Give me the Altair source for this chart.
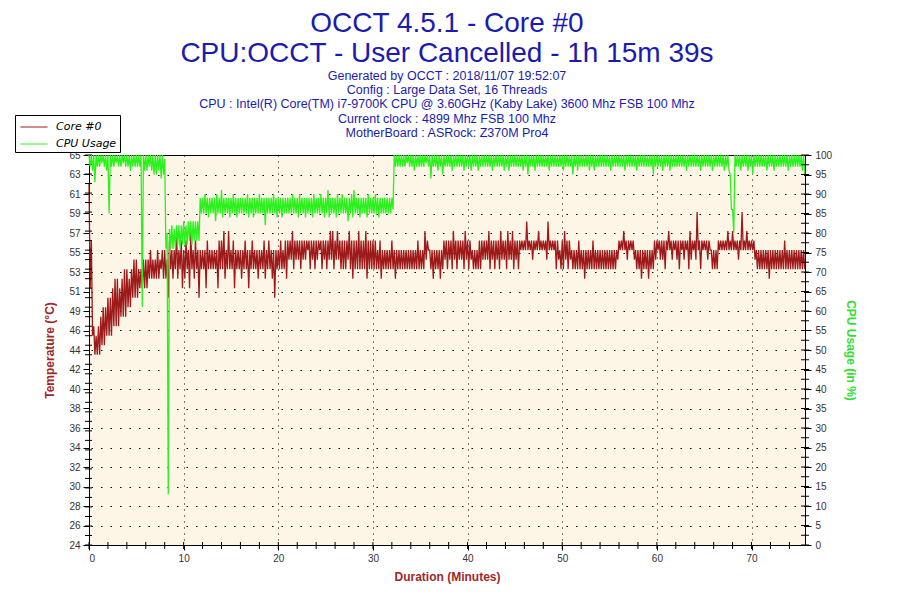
import altair as alt
import pandas as pd

# ---------------- data ----------------
step = 0.25  # minutes per reading bin (each bin: a high and a low reading)

temp_hi = [
    62, 56, 47, 46,  47, 48, 49, 49,  50, 50, 51, 52,  52, 51, 52, 53,
    53, 52, 53, 54,  54, 53, 53, 54,  54, 54, 55, 54,  54, 55, 54, 55,
    55, 54, 56, 55,  55, 57, 55, 56,  55, 56, 55, 57,  55, 56, 55, 55,
    55, 55, 56, 55,  55, 55, 55, 56,  56, 57, 55, 57,  55, 56, 55, 55,
    55, 55, 56, 55,  55, 56, 55, 55,  55, 55, 56, 55,  56, 55, 55, 55,
    55, 56, 55, 56,  56, 56, 57, 56,  56, 56, 56, 56,  56, 56, 56, 56,
    56, 56, 56, 56,  56, 56, 57, 57,  56, 57, 56, 56,  56, 56, 57, 56,
    56, 56, 57, 56,  56, 57, 56, 56,  56, 56, 55, 56,  55, 55, 55, 55,
    56, 55, 55, 55,  55, 55, 55, 55,  55, 55, 55, 56,  55, 55, 57, 56,
    55, 55, 55, 55,  55, 55, 56, 56,  56, 56, 57, 56,  56, 56, 56, 57,
    56, 56, 55, 55,  55, 56, 56, 56,  56, 57, 56, 56,  56, 56, 57, 56,
    56, 57, 56, 57,  56, 56, 56, 56,  56, 58, 56, 56,  56, 56, 57, 56,
    56, 56, 58, 56,  56, 56, 56, 55,  56, 57, 56, 56,  55, 55, 55, 56,
    55, 55, 55, 55,  55, 56, 55, 55,  55, 55, 55, 55,  55, 55, 55, 55,
    56, 56, 57, 56,  56, 56, 56, 55,  55, 55, 55, 55,  55, 55, 55, 56,
    56, 56, 56, 56,  56, 57, 56, 56,  56, 56, 56, 56,  56, 56, 57, 56,
    56, 59, 56, 56,  56, 56, 56, 55,  55, 55, 56, 56,  56, 56, 57, 56,
    57, 56, 56, 56,  59, 56, 57, 56,  56, 56, 55, 55,  55, 55, 55, 55,
    55, 55, 55, 55,  55, 55, 56, 55,  55, 55, 55, 55,  55, 55, 55,
]
temp_lo = [
    51, 46, 44, 44,  44, 45, 45, 46,  46, 46, 47, 47,  47, 48, 48, 48,
    49, 49, 50, 50,  50, 51, 51, 51,  51, 52, 52, 52,  52, 52, 53, 52,
    52, 50, 53, 52,  53, 52, 53, 51,  52, 53, 51, 53,  52, 53, 50, 53,
    53, 51, 53, 53,  53, 53, 51, 53,  53, 52, 53, 53,  53, 51, 53, 53,
    52, 53, 53, 51,  53, 53, 53, 52,  53, 53, 52, 53,  53, 52, 50, 53,
    53, 53, 53, 52,  54, 54, 53, 54,  54, 53, 54, 54,  55, 53, 54, 53,
    54, 55, 53, 54,  53, 54, 54, 53,  54, 54, 53, 53,  53, 54, 53, 52,
    53, 53, 53, 53,  53, 52, 53, 53,  53, 53, 53, 52,  53, 53, 53, 53,
    53, 52, 53, 53,  53, 53, 53, 53,  53, 53, 53, 53,  53, 53, 54, 55,
    53, 52, 53, 53,  52, 53, 54, 53,  54, 53, 54, 53,  54, 54, 53, 54,
    53, 54, 53, 53,  53, 53, 54, 54,  54, 53, 54, 53,  54, 53, 54, 54,
    53, 54, 54, 53,  54, 53, 55, 55,  55, 55, 55, 54,  55, 55, 55, 55,
    55, 54, 55, 55,  55, 53, 54, 53,  53, 54, 53, 54,  53, 53, 53, 53,
    53, 52, 53, 53,  53, 53, 53, 53,  53, 53, 53, 53,  53, 53, 53, 54,
    55, 55, 55, 54,  55, 55, 54, 53,  53, 52, 53, 53,  52, 53, 53, 54,
    55, 54, 54, 53,  55, 55, 54, 55,  54, 53, 55, 54,  55, 53, 54, 55,
    54, 55, 53, 55,  55, 54, 55, 53,  53, 53, 55, 55,  55, 55, 55, 55,
    55, 55, 54, 55,  55, 55, 55, 55,  55, 54, 53, 53,  53, 53, 53, 52,
    53, 53, 53, 53,  53, 53, 53, 53,  53, 53, 53, 53,  53, 53, 53,
]
cpu_hi = [
    100, 100, 100, 100,  100, 100, 100, 100,  100, 100, 100, 100,  100, 100, 100, 100,
    100, 100, 100, 100,  100, 100, 100, 100,  100, 100, 100, 100,  100, 100, 100, 100,
    99, 80, 81, 82,  81, 82, 82, 82,  83, 82, 83, 83,  83, 83, 83, 89,
    89, 90, 89, 89,  89, 89, 90, 89,  91, 89, 89, 89,  89, 90, 89, 89,
    89, 89, 89, 90,  89, 89, 89, 89,  90, 89, 89, 89,  89, 89, 90, 89,
    89, 89, 89, 89,  89, 89, 90, 89,  89, 90, 89, 89,  89, 89, 89, 90,
    89, 89, 90, 89,  89, 91, 89, 89,  89, 90, 89, 90,  89, 89, 89, 90,
    91, 89, 89, 89,  89, 89, 90, 89,  89, 90, 89, 89,  89, 89, 89, 89,
    89, 100, 100, 100,  100, 100, 100, 100,  100, 100, 100, 100,  100, 100, 100, 100,
    100, 100, 100, 100,  100, 100, 100, 100,  100, 100, 100, 100,  100, 100, 100, 100,
    100, 100, 100, 100,  100, 100, 100, 100,  100, 100, 100, 100,  100, 100, 100, 100,
    100, 100, 100, 100,  100, 100, 100, 100,  100, 100, 100, 100,  100, 100, 100, 100,
    100, 100, 100, 100,  100, 100, 100, 100,  100, 100, 100, 100,  100, 100, 100, 100,
    100, 100, 100, 100,  100, 100, 100, 100,  100, 100, 100, 100,  100, 100, 100, 100,
    100, 100, 100, 100,  100, 100, 100, 100,  100, 100, 100, 100,  100, 100, 100, 100,
    100, 100, 100, 100,  100, 100, 100, 100,  100, 100, 100, 100,  100, 100, 100, 100,
    100, 100, 100, 100,  100, 100, 100, 100,  100, 100, 100, 100,  100, 100, 100, 95,
    86, 100, 100, 100,  100, 100, 100, 100,  100, 100, 100, 100,  100, 100, 100, 100,
    100, 100, 100, 100,  100, 100, 100, 100,  100, 100, 100, 100,  100, 100, 100,
]
cpu_lo = [
    97, 96, 93, 97,  97, 98, 97, 96,  85, 97, 97, 98,  97, 97, 98, 97,
    97, 96, 97, 97,  97, 97, 61, 96,  96, 97, 96, 95,  95, 96, 94, 95,
    76, 13, 76, 76,  76, 77, 76, 77,  77, 77, 78, 77,  78, 78, 78, 85,
    85, 85, 84, 85,  85, 83, 85, 85,  84, 85, 85, 84,  85, 85, 84, 85,
    85, 85, 85, 84,  85, 84, 85, 85,  85, 85, 82, 85,  85, 85, 85, 84,
    85, 84, 85, 85,  85, 85, 85, 85,  84, 85, 85, 84,  85, 85, 84, 85,
    85, 85, 85, 84,  85, 84, 85, 85,  84, 85, 85, 85,  85, 83, 85, 84,
    85, 85, 84, 85,  85, 84, 85, 85,  85, 85, 84, 85,  85, 85, 85, 85,
    86, 97, 97, 97,  97, 97, 98, 97,  97, 96, 97, 97,  97, 97, 98, 97,
    94, 97, 97, 96,  97, 95, 97, 97,  97, 96, 97, 97,  97, 97, 96, 97,
    97, 96, 97, 97,  96, 97, 97, 97,  97, 97, 96, 97,  97, 97, 97, 96,
    97, 96, 97, 97,  97, 97, 97, 96,  97, 95, 97, 97,  96, 97, 97, 97,
    97, 97, 96, 97,  97, 97, 97, 97,  96, 97, 97, 97,  95, 97, 96, 97,
    97, 97, 97, 96,  97, 96, 97, 97,  97, 97, 97, 97,  96, 97, 97, 97,
    97, 97, 96, 97,  97, 97, 97, 96,  97, 97, 97, 97,  97, 97, 95, 97,
    97, 97, 96, 97,  97, 96, 97, 97,  97, 97, 97, 97,  96, 97, 97, 97,
    97, 97, 96, 97,  97, 97, 97, 96,  97, 97, 97, 97,  96, 97, 96, 86,
    80, 97, 97, 96,  97, 97, 96, 97,  95, 97, 97, 97,  97, 97, 96, 97,
    97, 96, 97, 97,  97, 97, 97, 96,  97, 97, 97, 97,  97, 96, 95,
]

series_names = ["Core #0", "CPU Usage"]
series_colors = ["#9E1A1A", "#2CF01E"]

duration_max = 75.65                      # 1h 15m 39s
x_ticks = [0, 10, 20, 30, 40, 50, 60, 70]
x_minor = list(range(0, 76, 2))
temp_domain = [24, 65]
temp_labels = ["24", "26", "28", "30", "32", "34", "36", "38", "40", "42", "44",
               "46", "49", "51", "53", "55", "57", "59", "61", "63", "65"]
temp_minor = list(range(24, 66))
cpu_ticks = list(range(0, 101, 5))
cpu_minor = [v / 2 for v in range(0, 201, 5)]

title_lines = ["OCCT 4.5.1 - Core #0", "CPU:OCCT - User Cancelled - 1h 15m 39s"]
subtitle_lines = [
    "Generated by OCCT : 2018/11/07 19:52:07",
    "Config : Large Data Set, 16 Threads",
    "CPU : Intel(R) Core(TM) i7-9700K CPU @ 3.60GHz (Kaby Lake) 3600 Mhz FSB 100 Mhz",
    "Current clock : 4899 Mhz FSB 100 Mhz",
    "MotherBoard : ASRock: Z370M Pro4",
]

# ---------------- tables ----------------
temp_rows, cpu_rows = [], []
for i, (th, tl) in enumerate(zip(temp_hi, temp_lo)):
    t = i * step
    temp_rows.append({"t": t, "series": series_names[0], "value": th})
    temp_rows.append({"t": t + step / 2, "series": series_names[0], "value": tl})
for i, (ch, cl) in enumerate(zip(cpu_hi, cpu_lo)):
    t = i * step
    cpu_rows.append({"t": t, "series": series_names[1], "value": ch})
    cpu_rows.append({"t": t + step / 2, "series": series_names[1], "value": cl})
df_temp = pd.DataFrame(temp_rows)
df_cpu = pd.DataFrame(cpu_rows)

n_steps = len(cpu_ticks) - 1
temp_tick_vals = [temp_domain[0] + (temp_domain[1] - temp_domain[0]) * k / n_steps
                  for k in range(n_steps + 1)]
label_js = "[" + ",".join("'" + s + "'" for s in temp_labels) + "]"

W, H = 716, 390
AXIS_FONT = "Liberation Sans"
TITLE_RED = "#A02828"
TITLE_GREEN = "#33DD33"

x_scale = alt.Scale(domain=[0, duration_max], nice=False, zero=False)
temp_scale = alt.Scale(domain=temp_domain, nice=False, zero=False)
cpu_scale = alt.Scale(domain=[0, 100], nice=False, zero=False)
color_scale = alt.Scale(domain=series_names, range=series_colors)

x_axis = alt.Axis(
    values=x_ticks, title="Duration (Minutes)", grid=True, gridColor="black",
    gridDash=[1, 5], gridOpacity=1, gridWidth=1, tickSize=5, tickColor="black",
    domainColor="black", labelFont=AXIS_FONT, labelFontSize=10, labelColor="#333333",
    labelPadding=3, titleFont=AXIS_FONT, titleFontSize=12, titleFontWeight="bold",
    titleColor=TITLE_RED, titlePadding=8)

temp_axis = alt.Axis(
    orient="left", values=temp_tick_vals,
    labelExpr=label_js + "[round((datum.value - %g) / %g)]" % (
        temp_domain[0], (temp_domain[1] - temp_domain[0]) / n_steps),
    title="Temperature (°C)", grid=False, tickSize=6, tickColor="black",
    domainColor="black", labelFont=AXIS_FONT, labelFontSize=10,
    labelColor="#333333", labelPadding=3, titleFont=AXIS_FONT, titleFontSize=12,
    titleFontWeight="bold", titleColor=TITLE_RED, titlePadding=12)

cpu_axis = alt.Axis(
    orient="right", values=cpu_ticks, title="CPU Usage (in %)", grid=True,
    gridColor="black", gridDash=[1.5, 8], gridOpacity=1, gridWidth=1,
    tickSize=6, tickColor="black", domainColor="black", labelFont=AXIS_FONT,
    labelFontSize=10, labelColor="#333333", labelPadding=4,
    titleFont=AXIS_FONT, titleFontSize=12, titleFontWeight="bold",
    titleColor=TITLE_GREEN, titlePadding=12, titleAngle=90)

x_enc = alt.X("t:Q", scale=x_scale, axis=x_axis)

legend = alt.Legend(
    title=None, orient="none", legendX=-74, legendY=-40, direction="vertical",
    fillColor="white", strokeColor="black", padding=3,
    symbolType="M-1.6,0H1.6", symbolSize=289, symbolStrokeWidth=1,
    labelFont="DejaVu Sans", labelFontSize=11, labelFontStyle="italic",
    labelColor="black", rowPadding=3, labelOffset=13, symbolOffset=7)

temp_line = alt.Chart(df_temp).mark_line(strokeWidth=1.3).encode(
    x=x_enc,
    y=alt.Y("value:Q", scale=temp_scale, axis=temp_axis),
    color=alt.Color("series:N", scale=color_scale, legend=legend),
)

temp_minor_ticks = alt.Chart(pd.DataFrame({"value": temp_minor})).mark_rule(
    color="black", strokeWidth=1).encode(
    y=alt.Y("value:Q", scale=temp_scale, axis=temp_axis),
    x=alt.value(-4), x2=alt.value(3))

x_minor_ticks = alt.Chart(pd.DataFrame({"t": x_minor})).mark_rule(
    color="black", strokeWidth=1).encode(
    x=x_enc,
    y=alt.value(H - 3), y2=alt.value(H + 4))

cpu_line = alt.Chart(df_cpu).mark_line(strokeWidth=1.3).encode(
    x=x_enc,
    y=alt.Y("value:Q", scale=cpu_scale, axis=cpu_axis),
    color=alt.Color("series:N", scale=color_scale, legend=legend),
)

cpu_minor_ticks = alt.Chart(pd.DataFrame({"value": cpu_minor})).mark_rule(
    color="black", strokeWidth=1).encode(
    y=alt.Y("value:Q", scale=cpu_scale, axis=cpu_axis),
    x=alt.value(W - 4), x2=alt.value(W + 4))

temp_group = alt.layer(temp_line, temp_minor_ticks, x_minor_ticks)
cpu_group = alt.layer(cpu_line, cpu_minor_ticks)

chart = alt.layer(temp_group, cpu_group).resolve_scale(y="independent").properties(
    width=W, height=H,
    autosize=alt.AutoSizeParams(type="none"),
    padding={"left": 81, "top": 147, "right": 85, "bottom": 45},
    title=alt.TitleParams(
        text=title_lines, subtitle=subtitle_lines, anchor="middle",
        font=AXIS_FONT, fontSize=28, fontWeight="normal", color="#1B1BAF",
        lineHeight=30, subtitleFont=AXIS_FONT, subtitleFontSize=12.5,
        subtitleLineHeight=14.3, subtitleColor="#1B1BAF", subtitlePadding=2,
        offset=-25),
).configure(background="white").configure_view(
    fill="#FDF5E6", stroke="black", strokeWidth=1)

chart.save("out.html", embed_options={"renderer": "svg", "actions": False})
